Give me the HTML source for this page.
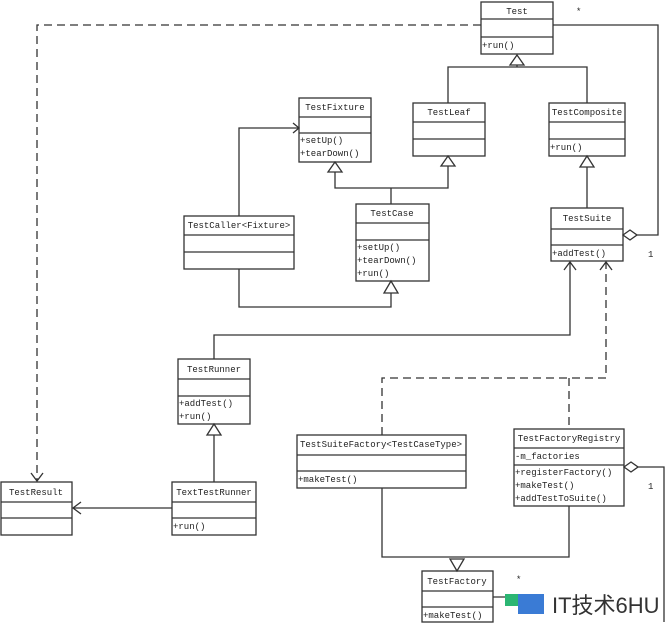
<!DOCTYPE html>
<html><head><meta charset="utf-8"><style>
html,body{margin:0;padding:0;background:#fff;}
svg{display:block}
text{font-family:"Liberation Mono",monospace;font-size:9px;fill:#222}
.h{text-anchor:middle}
</style></head><body>
<svg width="666" height="625" viewBox="0 0 666 625" xmlns="http://www.w3.org/2000/svg">
<g fill="#fff" stroke="#333" stroke-width="1.3">
<!-- boxes -->
<rect x="481" y="2" width="72" height="52"/><line x1="481" y1="19" x2="553" y2="19"/><line x1="481" y1="37" x2="553" y2="37"/>
<rect x="299" y="98" width="72" height="64"/><line x1="299" y1="117" x2="371" y2="117"/><line x1="299" y1="133" x2="371" y2="133"/>
<rect x="413" y="103" width="72" height="53"/><line x1="413" y1="122" x2="485" y2="122"/><line x1="413" y1="139" x2="485" y2="139"/>
<rect x="549" y="103" width="76" height="53"/><line x1="549" y1="122" x2="625" y2="122"/><line x1="549" y1="139" x2="625" y2="139"/>
<rect x="356" y="204" width="73" height="77"/><line x1="356" y1="223" x2="429" y2="223"/><line x1="356" y1="240" x2="429" y2="240"/>
<rect x="551" y="208" width="72" height="53"/><line x1="551" y1="229" x2="623" y2="229"/><line x1="551" y1="245" x2="623" y2="245"/>
<rect x="184" y="216" width="110" height="53"/><line x1="184" y1="235" x2="294" y2="235"/><line x1="184" y1="252" x2="294" y2="252"/>
<rect x="178" y="359" width="72" height="65"/><line x1="178" y1="379" x2="250" y2="379"/><line x1="178" y1="396" x2="250" y2="396"/>
<rect x="1" y="482" width="71" height="53"/><line x1="1" y1="502" x2="72" y2="502"/><line x1="1" y1="518" x2="72" y2="518"/>
<rect x="172" y="482" width="84" height="53"/><line x1="172" y1="502" x2="256" y2="502"/><line x1="172" y1="518" x2="256" y2="518"/>
<rect x="297" y="435" width="169" height="53"/><line x1="297" y1="455" x2="466" y2="455"/><line x1="297" y1="471" x2="466" y2="471"/>
<rect x="514" y="429" width="110" height="77"/><line x1="514" y1="448" x2="624" y2="448"/><line x1="514" y1="465" x2="624" y2="465"/>
<rect x="422" y="571" width="71" height="51"/><line x1="422" y1="591" x2="493" y2="591"/><line x1="422" y1="607" x2="493" y2="607"/>
</g>
<g fill="none" stroke="#333" stroke-width="1.3">
<!-- Test inheritance -->
<polyline points="448,103 448,67 587,67 587,103"/><line x1="517" y1="67" x2="517" y2="65"/>
<polyline points="335,172 335,188 448,188 448,166"/><line x1="391" y1="188" x2="391" y2="204"/>
<line x1="587" y1="167" x2="587" y2="208"/>
<!-- aggregation Test-TestSuite -->
<polyline points="553,25 658,25 658,235 637,235"/>
<!-- TestCaller -->
<polyline points="239,216 239,128 298,128"/><polyline points="293,123 299,128 293,133"/>
<polyline points="239,269 239,307 391,307 391,293"/>
<!-- TestRunner -> TestSuite -->
<polyline points="214,359 214,335 570,335 570,262"/><polyline points="564,270 570,262 576,270"/>
<line x1="214" y1="435" x2="214" y2="482"/>
<!-- TextTestRunner -> TestResult -->
<line x1="172" y1="508" x2="73" y2="508"/><polyline points="81,502 73,508 81,514"/>
<!-- factories -->
<polyline points="382,488 382,557 569,557 569,506"/>
<polyline points="493,597 520,597"/>
<polyline points="624,467 664,467 664,622"/>
</g>
<g fill="none" stroke="#333" stroke-width="1.3" stroke-dasharray="8,5">
<polyline points="481,25 37,25 37,481"/>
<polyline points="382,435 382,378 606,378 606,262"/>
<line x1="569" y1="378" x2="569" y2="429"/>
</g>
<g fill="none" stroke="#333" stroke-width="1.3">
<polyline points="31,473 37,481 43,473"/>
<polyline points="600,270 606,262 612,270"/>
</g>
<!-- triangles -->
<g fill="#fff" stroke="#333" stroke-width="1.3">
<polygon points="517,55 510,65 524,65"/>
<polygon points="335,162 328,172 342,172"/>
<polygon points="448,156 441,166 455,166"/>
<polygon points="587,156 580,167 594,167"/>
<polygon points="391,281 384,293 398,293"/>
<polygon points="214,424 207,435 221,435"/>
<polygon points="457,571 450,559 464,559"/>
<polygon points="623,235 630,230 637,235 630,240"/>
<polygon points="624,467 631,462 638,467 631,472"/>
</g>
<!-- labels -->
<text class="h" x="517" y="14">Test</text><text x="482" y="48">+run()</text>
<text class="h" x="335" y="110">TestFixture</text><text x="300" y="143">+setUp()</text><text x="300" y="156">+tearDown()</text>
<text class="h" x="449" y="115">TestLeaf</text>
<text class="h" x="587" y="115">TestComposite</text><text x="550" y="150">+run()</text>
<text class="h" x="392" y="216">TestCase</text><text x="357" y="250">+setUp()</text><text x="357" y="263">+tearDown()</text><text x="357" y="276">+run()</text>
<text class="h" x="587" y="221">TestSuite</text><text x="552" y="256">+addTest()</text>
<text class="h" x="239" y="228">TestCaller&lt;Fixture&gt;</text>
<text class="h" x="214" y="372">TestRunner</text><text x="179" y="406">+addTest()</text><text x="179" y="419">+run()</text>
<text class="h" x="36" y="495">TestResult</text>
<text class="h" x="214" y="495">TextTestRunner</text><text x="173" y="529">+run()</text>
<text class="h" x="381" y="447">TestSuiteFactory&lt;TestCaseType&gt;</text><text x="298" y="482">+makeTest()</text>
<text class="h" x="569" y="441">TestFactoryRegistry</text><text x="515" y="459">-m_factories</text>
<text x="515" y="475">+registerFactory()</text><text x="515" y="488">+makeTest()</text><text x="515" y="501">+addTestToSuite()</text>
<text class="h" x="457" y="584">TestFactory</text><text x="423" y="618">+makeTest()</text>
<text x="576" y="14">*</text><text x="648" y="257">1</text><text x="648" y="489">1</text><text x="516" y="582">*</text>
<!-- watermark -->
<rect x="505" y="594" width="18" height="12" fill="#2bb673"/>
<rect x="518" y="594" width="26" height="20" fill="#3a7bd5"/>
<text x="552" y="613" style="font-family:'Liberation Sans','Noto Sans CJK SC',sans-serif;font-size:22px;fill:#333">IT技术6HU</text>
</svg>
</body></html>
